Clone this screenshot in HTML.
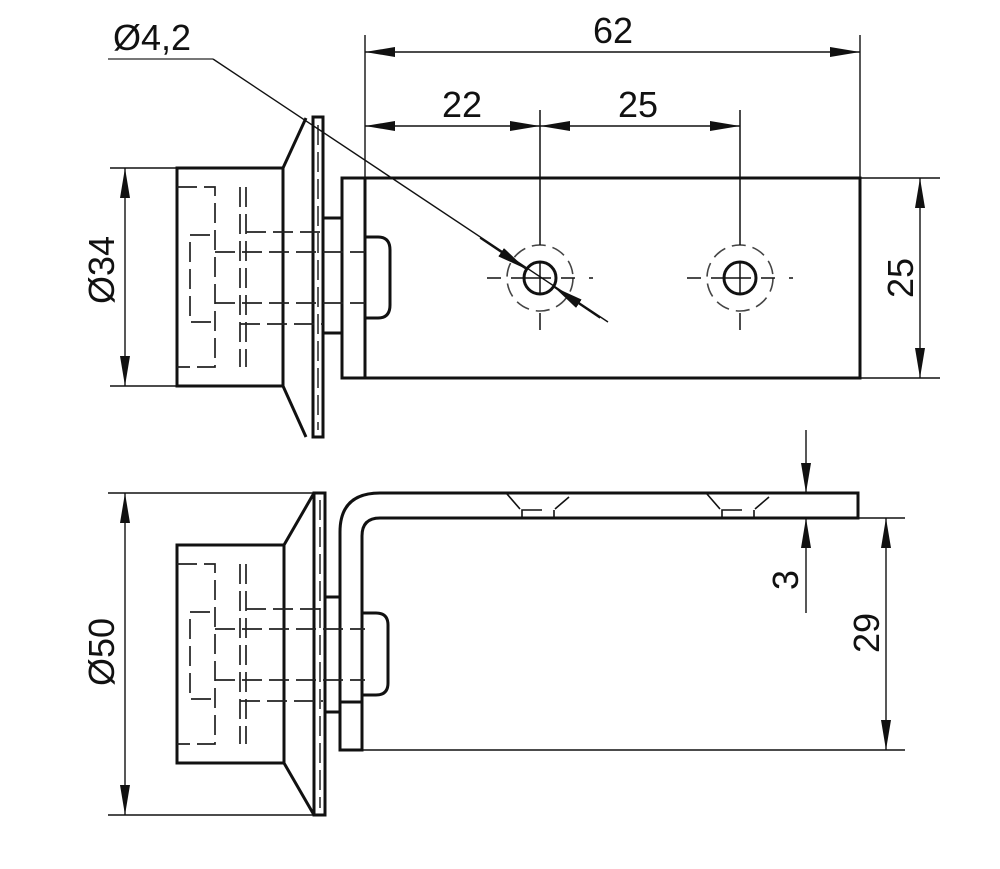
<!DOCTYPE html>
<html><head><meta charset="utf-8"><style>
html,body{margin:0;padding:0;background:#fff;}
svg{display:block;}
text{font-family:"Liberation Sans",sans-serif;font-size:36px;fill:#111;}
</style></head><body>
<svg width="1000" height="869" viewBox="0 0 1000 869" xmlns="http://www.w3.org/2000/svg">
<defs>
<marker id="a" viewBox="0 0 30 10" refX="30" refY="5" markerWidth="30" markerHeight="10" markerUnits="userSpaceOnUse" orient="auto">
<path d="M0,0 L30,5 L0,10 Z" fill="#111"/></marker>
<marker id="b" viewBox="0 0 30 10" refX="0" refY="5" markerWidth="30" markerHeight="10" markerUnits="userSpaceOnUse" orient="auto">
<path d="M30,0 L0,5 L30,10 Z" fill="#111"/></marker>
<g id="hid" fill="none" stroke="#222" stroke-width="1.7" stroke-dasharray="20,7">
<polyline points="177,187 215,187 215,367 177,367"/>
<polyline points="210,235 190,235 190,322 212,322"/>
<line x1="240" y1="187" x2="240" y2="367"/>
<line x1="246" y1="187" x2="246" y2="367"/>
<line x1="246" y1="232" x2="323" y2="232"/>
<line x1="215" y1="252" x2="365" y2="252"/>
<line x1="215" y1="303" x2="365" y2="303"/>
<line x1="240" y1="324" x2="323" y2="324"/>
</g>
</defs>

<!-- TOP VIEW -->
<g fill="none" stroke="#111" stroke-width="3">
<rect x="177" y="168" width="106" height="218"/>
<polyline points="283,168 306,118"/>
<polyline points="283,386 306,437"/>
<rect x="313" y="117" width="10" height="320"/>
<rect x="323" y="218" width="19" height="115"/>
<rect x="342" y="178" width="518" height="200"/>
<line x1="365" y1="178" x2="365" y2="378"/>
<path d="M365,237 H378 Q390,237 390,250 V305 Q390,318 378,318 H365"/>
<circle cx="540" cy="278" r="16"/>
<circle cx="740" cy="278" r="16"/>
</g>
<line x1="318" y1="125" x2="318" y2="430" stroke="#222" stroke-width="1.5" stroke-dasharray="20,7"/>
<use href="#hid"/>
<g fill="none" stroke="#444" stroke-width="1.6" stroke-dasharray="14,7">
<circle cx="540" cy="278" r="33"/>
<circle cx="740" cy="278" r="33"/>
</g>
<g stroke="#111" stroke-width="1.5">
<line x1="487" y1="278" x2="593" y2="278" stroke-dasharray="14,10,40,10,14"/>
<line x1="687" y1="278" x2="793" y2="278" stroke-dasharray="14,10,40,10,14"/>
<line x1="540" y1="110" x2="540" y2="245"/>
<line x1="540" y1="262" x2="540" y2="294"/>
<line x1="540" y1="313" x2="540" y2="330"/>
<line x1="740" y1="110" x2="740" y2="245"/>
<line x1="740" y1="262" x2="740" y2="294"/>
<line x1="740" y1="313" x2="740" y2="330"/>
</g>

<!-- BOTTOM VIEW -->
<g fill="none" stroke="#111" stroke-width="3">
<rect x="177" y="545" width="107" height="218"/>
<polyline points="284,545 314,493"/>
<polyline points="284,763 314,815"/>
<rect x="314" y="493" width="11" height="322"/>
<rect x="325" y="597" width="15" height="115"/>
<path d="M340,750 V532 Q340,493 380,493 H858 V518 H380 Q362,518 362,536 V750 Z"/>
<path d="M362,613 H376 Q388,613 388,625 V683 Q388,695 376,695 H362"/>
<line x1="340" y1="702" x2="362" y2="702"/>
</g>
<line x1="320" y1="500" x2="320" y2="808" stroke="#222" stroke-width="1.5" stroke-dasharray="20,7"/>
<use href="#hid" transform="translate(0,377)"/>
<g fill="none" stroke="#111" stroke-width="1.6">
<polyline points="507,494 520,509"/><polyline points="569,497 555,509"/>
<polyline points="522,518 522,510 542,510"/><line x1="554" y1="510" x2="554" y2="518"/>
<polyline points="707,494 720,509"/><polyline points="769,497 755,509"/>
<polyline points="722,518 722,510 742,510"/><line x1="754" y1="510" x2="754" y2="518"/>
</g>

<!-- DIMENSIONS -->
<g stroke="#111" stroke-width="1.4" fill="none">
<line x1="365" y1="35" x2="365" y2="178"/>
<line x1="860" y1="35" x2="860" y2="178"/>
<line x1="365" y1="52" x2="860" y2="52" marker-start="url(#b)" marker-end="url(#a)"/>
<line x1="365" y1="126" x2="540" y2="126" marker-start="url(#b)" marker-end="url(#a)"/>
<line x1="540" y1="126" x2="740" y2="126" marker-start="url(#b)" marker-end="url(#a)"/>
<line x1="860" y1="178" x2="940" y2="178"/>
<line x1="860" y1="378" x2="940" y2="378"/>
<line x1="920" y1="178" x2="920" y2="378" marker-start="url(#b)" marker-end="url(#a)"/>
<line x1="110" y1="168" x2="177" y2="168"/>
<line x1="110" y1="386" x2="177" y2="386"/>
<line x1="125" y1="168" x2="125" y2="386" marker-start="url(#b)" marker-end="url(#a)"/>
<line x1="108" y1="493" x2="314" y2="493"/>
<line x1="108" y1="815" x2="314" y2="815"/>
<line x1="125" y1="493" x2="125" y2="815" marker-start="url(#b)" marker-end="url(#a)"/>
<line x1="806" y1="430" x2="806" y2="493" marker-end="url(#a)"/>
<line x1="806" y1="613" x2="806" y2="518" marker-end="url(#a)"/>
<line x1="858" y1="518" x2="905" y2="518"/>
<line x1="362" y1="750" x2="905" y2="750"/>
<line x1="886" y1="518" x2="886" y2="750" marker-start="url(#b)" marker-end="url(#a)"/>
<line x1="108" y1="59" x2="213" y2="59" stroke="#777" stroke-width="2"/>
<line x1="213" y1="59" x2="608" y2="322"/>
<line x1="480" y1="238" x2="526" y2="269" marker-end="url(#a)"/>
<line x1="600" y1="318" x2="554" y2="287" marker-end="url(#a)"/>
</g>
<text x="613" y="43" text-anchor="middle">62</text>
<text x="462" y="117" text-anchor="middle">22</text>
<text x="638" y="117" text-anchor="middle">25</text>
<text x="113" y="50">Ø4,2</text>
<text transform="translate(913,278) rotate(-90)" text-anchor="middle">25</text>
<text transform="translate(114,270) rotate(-90)" text-anchor="middle">Ø34</text>
<text transform="translate(114,652) rotate(-90)" text-anchor="middle">Ø50</text>
<text transform="translate(798,580) rotate(-90)" text-anchor="middle">3</text>
<text transform="translate(879,633) rotate(-90)" text-anchor="middle">29</text>
</svg>
</body></html>
